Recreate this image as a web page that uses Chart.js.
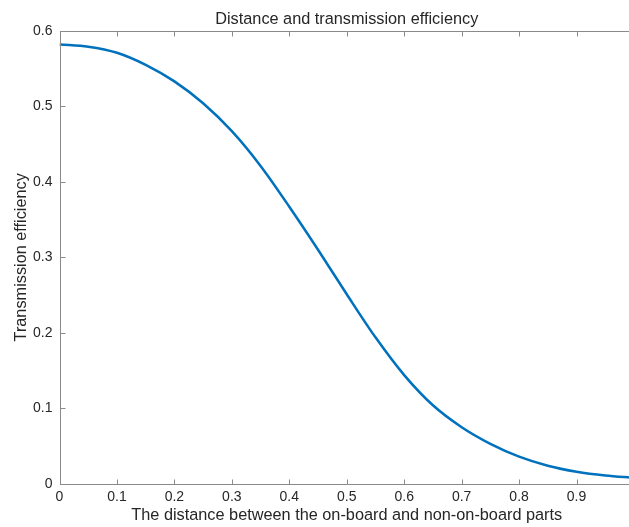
<!DOCTYPE html>
<html>
<head>
<meta charset="utf-8">
<script src="https://cdn.jsdelivr.net/npm/chart.js@4/dist/chart.umd.min.js"></script>
<style>
  html, body { margin: 0; padding: 0; background: #fff; overflow: hidden; }
  #wrap { width: 629px; height: 527px; overflow: hidden; }
  canvas { display: block; }
</style>
</head>
<body>
<div id="wrap"><canvas id="c" width="640" height="527" style="width:640px;height:527px"></canvas></div>
<script>
// ---- data ----
const distance = [0, 0.05, 0.1, 0.15, 0.2, 0.25, 0.3, 0.35, 0.4, 0.45, 0.5,
                  0.55, 0.6, 0.65, 0.7, 0.75, 0.8, 0.85, 0.9, 0.95, 1.0];
const efficiency = [0.582, 0.579, 0.571, 0.555, 0.533, 0.504, 0.467, 0.421, 0.367, 0.310, 0.251,
                    0.194, 0.144, 0.104, 0.075, 0.053, 0.036, 0.024, 0.016, 0.011, 0.008];
const xTickValues = [0, 0.1, 0.2, 0.3, 0.4, 0.5, 0.6, 0.7, 0.8, 0.9, 1.0];
const xTickLabels = ['0', '0.1', '0.2', '0.3', '0.4', '0.5', '0.6', '0.7', '0.8', '0.9', ''];
const yTickValues = [0, 0.1, 0.2, 0.3, 0.4, 0.5, 0.6];
const yTickLabels = ['0', '0.1', '0.2', '0.3', '0.4', '0.5', '0.6'];

const titleText = 'Distance and transmission efficiency';
const xTitle = 'The distance between the on-board and non-on-board parts';
const yTitle = 'Transmission efficiency';

const axisColor = '#8a8a8a';
const textColor = '#262626';
const FONT = '"Liberation Sans", Arial, Helvetica, sans-serif';

const framePlugin = {
  id: 'frame',
  afterDatasetsDraw(chart) {
    const { ctx, chartArea: a, scales: { x, y } } = chart;
    const L = Math.round(a.left) + 0.5, R = Math.round(a.right) + 0.5;
    const T = Math.round(a.top) + 0.5, B = Math.round(a.bottom) + 0.5;
    const tl = 5;
    ctx.save();
    ctx.strokeStyle = axisColor;
    ctx.lineWidth = 1;
    ctx.beginPath();
    ctx.rect(L, T, R - L, B - T);
    x.ticks.forEach(t => {
      const px = Math.round(x.getPixelForValue(t.value)) + 0.5;
      ctx.moveTo(px, B); ctx.lineTo(px, B - tl);
      ctx.moveTo(px, T); ctx.lineTo(px, T + tl);
    });
    y.ticks.forEach(t => {
      const py = Math.round(y.getPixelForValue(t.value)) + 0.5;
      ctx.moveTo(L, py); ctx.lineTo(L + tl, py);
      ctx.moveTo(R, py); ctx.lineTo(R - tl, py);
    });
    ctx.stroke();
    ctx.restore();
  }
};

new Chart(document.getElementById('c'), {
  type: 'line',
  data: {
    datasets: [{
      data: distance.map((d, i) => ({ x: d, y: efficiency[i] })),
      borderColor: '#0072BD',
      borderWidth: 2.5,
      pointRadius: 0,
      fill: false,
      cubicInterpolationMode: 'monotone'
    }]
  },
  options: {
    responsive: false,
    animation: false,
    devicePixelRatio: 1,
    layout: { padding: { left: 0, right: 6, top: 0, bottom: 0 } },
    plugins: {
      legend: { display: false },
      tooltip: { enabled: false },
      title: { display: false }
    },
    scales: {
      x: {
        type: 'linear',
        min: 0, max: 1,
        afterBuildTicks(s) { s.ticks = xTickValues.map(v => ({ value: v })); },
        afterFit(s) { s.height = 43.2; },
        grid: { display: false, drawTicks: false },
        border: { display: false },
        ticks: {
          color: textColor,
          font: { family: FONT, size: 14 },
          padding: 5,
          maxRotation: 0,
          autoSkip: false,
          callback: (v, i) => xTickLabels[i]
        },
        title: {
          display: true, text: xTitle, color: textColor,
          font: { family: FONT, size: 16.3 },
          padding: { top: 0, bottom: 1.6 }
        }
      },
      xTop: {
        type: 'linear',
        axis: 'x',
        position: 'top',
        min: 0, max: 1,
        afterFit(s) { s.height = 30.8; },
        grid: { display: false, drawTicks: false },
        border: { display: false },
        ticks: { display: false },
        title: {
          display: true, text: titleText, color: textColor,
          font: { family: FONT, size: 16.3, weight: 'normal' },
          padding: { top: 9.5, bottom: 0 }
        }
      },
      y: {
        type: 'linear',
        min: 0, max: 0.6,
        afterBuildTicks(s) { s.ticks = yTickValues.map(v => ({ value: v })); },
        afterFit(s) { s.width = 59.5; },
        grid: { display: false, drawTicks: false },
        border: { display: false },
        ticks: {
          color: textColor,
          font: { family: FONT, size: 14 },
          padding: 7,
          autoSkip: false,
          callback: (v, i) => yTickLabels[i]
        },
        title: {
          display: true, text: yTitle, color: textColor,
          font: { family: FONT, size: 16.3 },
          padding: { top: 12.2, bottom: 0 }
        }
      }
    }
  },
  plugins: [framePlugin]
});
</script>
</body>
</html>
